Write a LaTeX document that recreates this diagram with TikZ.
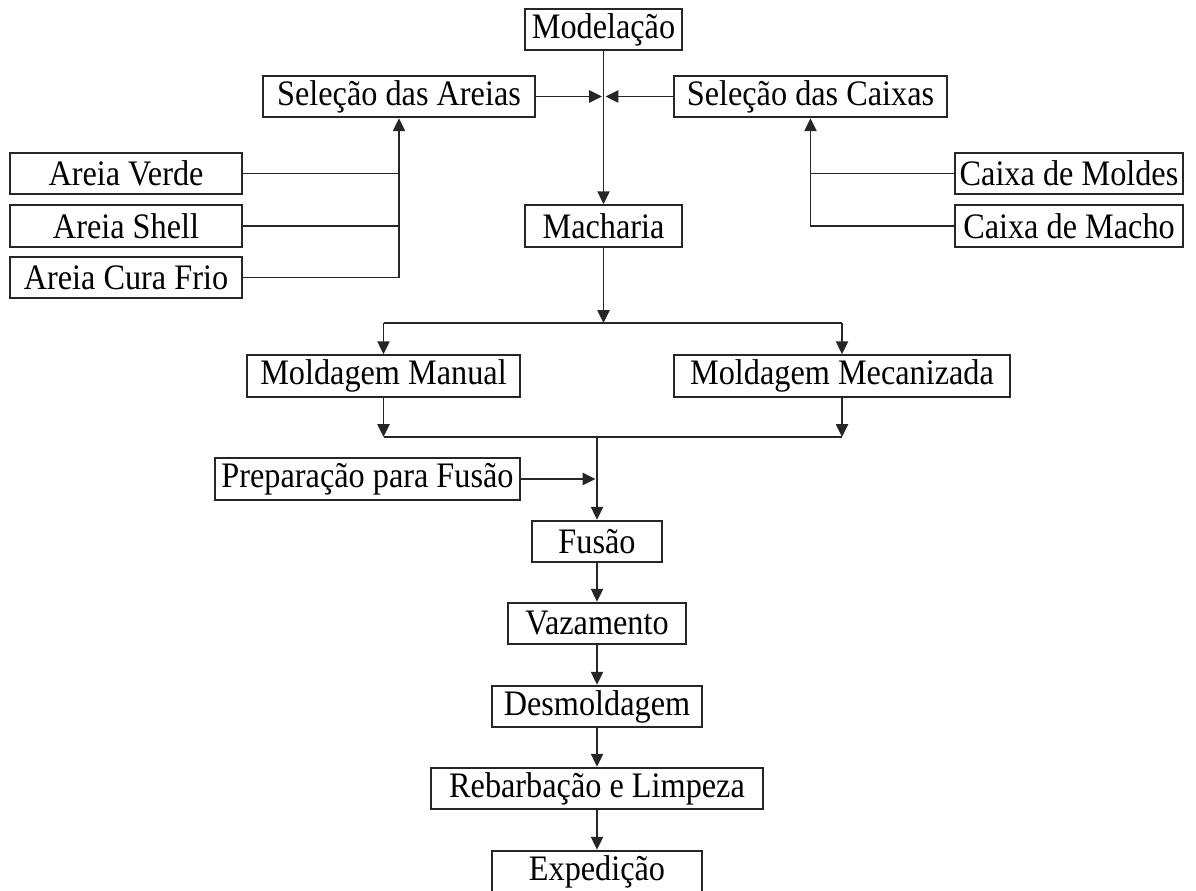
\documentclass[tikz,border=0pt]{standalone}
\usepackage{fontspec}
\setmainfont[FakeStretch=0.9]{Liberation Serif}
\usetikzlibrary{arrows.meta,positioning}

\begin{document}
\begin{tikzpicture}[x=0.025cm, y=-0.025cm,
	etapa/.style={draw=black!85, line width=1.4pt, fill=white, minimum height=1.04cm, inner sep=0pt, font=\fontsize{25.5}{30}\selectfont},
	seta/.style={-{Triangle[length=0.32cm, width=0.3cm]}, line width=1.4pt, draw=black!85},
	linha/.style={line width=1.4pt, draw=black!85}]
	\useasboundingbox (0,0) rectangle (1196,891);

	% etapas
	\node[etapa, minimum width=3.93cm] (modelacao) at (603.5,29.5) {Modelação};
	\node[etapa, minimum width=6.8cm] (areias) at (399,96.5) {Seleção das Areias};
	\node[etapa, minimum width=6.83cm] (caixas) at (810.5,96.5) {Seleção das Caixas};
	\node[etapa, minimum width=5.8cm] (verde) at (126,173.5) {Areia Verde};
	\node[etapa, minimum width=5.8cm] (shell) at (126,226) {Areia Shell};
	\node[etapa, minimum width=5.8cm] (frio) at (126,277.5) {Areia Cura Frio};
	\node[etapa, minimum width=5.7cm] (moldes) at (1069,173.5) {Caixa de Moldes};
	\node[etapa, minimum width=5.7cm] (macho) at (1069,226) {Caixa de Macho};
	\node[etapa, minimum width=3.93cm] (macharia) at (603.5,226) {Macharia};
	\node[etapa, minimum width=6.83cm] (manual) at (383.5,376) {Moldagem Manual};
	\node[etapa, minimum width=8.4cm] (mecanizada) at (842,376) {Moldagem Mecanizada};
	\node[etapa, minimum width=7.63cm] (preparacao) at (367.5,479) {Preparação para Fusão};
	\node[etapa, minimum width=3.23cm] (fusao) at (597,541.5) {Fusão};
	\node[etapa, minimum width=4.45cm] (vazamento) at (597,623.5) {Vazamento};
	\node[etapa, minimum width=5.25cm] (desmoldagem) at (597,706.5) {Desmoldagem};
	\node[etapa, minimum width=8.3cm] (rebarbacao) at (597,788.5) {Rebarbação e Limpeza};
	\node[etapa, minimum width=5.23cm] (expedicao) at (597,871.5) {Expedição};

	% pontos de juncao
	\coordinate (jareias) at (602,96.5);
	\coordinate (jcaixas) at (605.5,96.5);
	\coordinate (jmacharia) at (603.5,323);
	\coordinate (jmoldagem) at (597,437);
	\coordinate (jprep) at (595.5,479);

	\draw[seta] (modelacao) -- (macharia);
	\draw[seta] (areias) -- (jareias);
	\draw[seta] (caixas) -- (jcaixas);

	\draw[seta] (frio.east) -| (areias.south);
	\draw[linha] (verde.east) -- (verde.east -| areias.south);
	\draw[linha] (shell.east) -- (shell.east -| areias.south);
	\draw[seta] (macho.west) -| (caixas.south);
	\draw[linha] (moldes.west) -- (moldes.west -| caixas.south);

	\draw[seta] (macharia) -- (jmacharia);
	\draw[linha] (manual.north |- jmacharia) -- (mecanizada.north |- jmacharia);
	\draw[seta] (manual.north |- jmacharia) -- (manual);
	\draw[seta] (mecanizada.north |- jmacharia) -- (mecanizada);

	\draw[seta] (manual) -- (manual.south |- jmoldagem);
	\draw[seta] (mecanizada) -- (mecanizada.south |- jmoldagem);
	\draw[linha] (manual.south |- jmoldagem) -- (mecanizada.south |- jmoldagem);
	\draw[seta] (jmoldagem) -- (fusao);
	\draw[seta] (preparacao) -- (jprep);

	\draw[seta] (fusao) -- (vazamento);
	\draw[seta] (vazamento) -- (desmoldagem);
	\draw[seta] (desmoldagem) -- (rebarbacao);
	\draw[seta] (rebarbacao) -- (expedicao);
\end{tikzpicture}
\end{document}
